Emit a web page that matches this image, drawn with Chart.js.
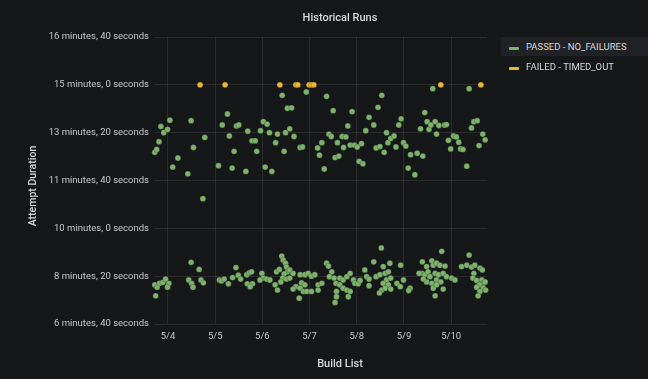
<!DOCTYPE html>
<html>
<head>
<meta charset="utf-8">
<script src="https://cdn.jsdelivr.net/npm/chart.js@4.4.1/dist/chart.umd.min.js"></script>
<style>
  body { margin: 0; background: #161719; }
  #wrap { position: relative; width: 648px; height: 379px; }
  .leg { position: absolute; left: 501px; width: 147px; height: 19px; font: 9.5px Roboto, sans-serif; color: #d8d9da; line-height: 19px; }
  .leg .mk { position: absolute; left: 8px; top: 10px; width: 10px; height: 3px; border-radius: 1px; }
  .leg span { position: absolute; left: 25px; top: 0; }
</style>
</head>
<body>
<div id="wrap">
  <canvas id="runs" width="648" height="379"></canvas>
  <div class="leg" style="top:37px;background:#212226;"><div class="mk" style="background:#7eb26d"></div><span>PASSED - NO_FAILURES</span></div>
  <div class="leg" style="top:57px;"><div class="mk" style="background:#eab839"></div><span>FAILED - TIMED_OUT</span></div>
</div>
<script>
// x = day of May (fractional), y = attempt duration in seconds
const passedX = [
  3.72, 3.76, 3.81, 3.85, 3.91, 3.99, 4.04, 4.10, 4.21, 4.42, 4.49, 4.54, 4.74, 4.78, 5.07, 5.15, 5.26, 5.30, 5.36, 5.40,
  5.45, 5.50, 5.65, 5.69, 5.78, 5.85, 5.88, 5.96, 6.02, 6.06, 6.10, 6.15, 6.20, 6.28, 6.32, 6.42, 6.46, 6.49, 6.53, 6.58,
  6.62, 6.67, 6.80, 6.85, 6.93, 7.17, 7.21, 7.26, 7.31, 7.36, 7.41, 7.46, 7.50, 7.54, 7.59, 7.62, 7.69, 7.72, 7.77, 7.81,
  7.86, 7.90, 7.95, 8.01, 8.05, 8.10, 8.13, 8.19, 8.26, 8.36, 8.41, 8.45, 8.49, 8.53, 8.58, 8.63, 8.66, 8.72, 8.79, 8.83,
  8.89, 8.94, 8.99, 9.04, 9.09, 9.14, 9.23, 9.28, 9.35, 9.40, 9.44, 9.49, 9.53, 9.57, 9.61, 9.66, 9.69, 9.74, 9.86, 9.90,
  9.94, 9.99, 10.05, 10.11, 10.16, 10.20, 10.25, 10.33, 10.38, 10.43, 10.48, 10.55, 10.59, 10.67, 10.72,
  3.74, 3.72, 3.77, 3.82, 3.89, 3.95, 4.02, 3.99, 4.49, 4.66, 4.44, 4.50, 4.53, 4.70, 4.75, 5.09, 5.13, 5.19, 5.28, 5.44,
  5.37, 5.49, 5.54, 5.67, 5.72, 5.77, 5.68, 5.79, 5.74, 5.99, 6.02, 5.95, 6.09, 6.16, 6.27, 6.32, 6.30, 6.36, 6.41, 6.44,
  6.49, 6.51, 6.53, 6.58, 6.65, 6.46, 6.43, 6.39, 6.51, 6.58, 6.71, 6.65, 6.80, 6.90, 6.97, 7.04, 7.11, 6.83, 6.90, 6.80,
  6.87, 6.78, 6.94, 7.04, 7.18, 7.18, 7.26, 7.36, 7.40, 7.47, 7.42, 7.52, 7.56, 7.64, 7.71, 7.79, 7.86, 7.93, 7.96, 7.64,
  7.71, 7.79, 7.57, 7.57, 7.54, 7.86, 7.82, 8.03, 8.07, 8.17, 8.21, 8.26, 8.36, 8.26, 8.41, 8.49, 8.56, 8.60, 8.67, 8.70,
  8.63, 8.72, 8.56, 8.67, 8.53, 8.48, 8.60, 8.72, 8.85, 8.93, 8.92, 8.99, 9.13, 9.10, 8.52, 9.39, 9.59, 9.48, 9.38, 9.44,
  9.51, 9.62, 9.69, 9.76, 9.87, 9.55, 9.66, 9.73, 9.83, 9.90, 10.01, 10.08, 9.48, 9.59, 9.69, 9.78, 9.62, 9.69, 9.83, 9.66,
  9.41, 9.32, 9.80, 10.38, 10.22, 10.33, 10.43, 10.50, 10.61, 10.66, 10.48, 10.46, 10.54, 10.65, 10.68, 10.72, 10.60, 10.54, 10.68, 10.61,
  10.57, 10.73
];
const passedY = [
  759, 765, 781, 813, 800, 807, 826, 728, 747, 714, 825, 769, 662, 790, 731, 816, 839, 793, 726, 761,
  814, 816, 719, 803, 783, 783, 761, 804, 823, 728, 818, 800, 719, 779, 797, 878, 761, 800, 851, 808,
  852, 792, 769, 770, 885, 768, 753, 779, 724, 876, 797, 792, 846, 748, 779, 751, 792, 769, 791, 814,
  774, 844, 774, 770, 740, 777, 735, 804, 832, 816, 768, 853, 771, 878, 759, 800, 779, 788, 793, 770,
  816, 829, 779, 772, 726, 754, 712, 757, 808, 751, 842, 823, 807, 816, 892, 823, 797, 815, 816, 817,
  784, 766, 793, 791, 780, 766, 765, 730, 892, 810, 823, 825, 773, 797, 785,
  459, 482, 477, 485, 487, 494, 485, 477, 529, 514, 492, 485, 477, 492, 486, 492, 490, 494, 484, 518,
  497, 502, 494, 503, 507, 509, 484, 484, 478, 506, 496, 492, 494, 492, 482, 471, 509, 514, 542, 534,
  527, 519, 509, 513, 506, 505, 496, 488, 494, 496, 478, 473, 503, 503, 506, 500, 503, 486, 482, 475,
  468, 454, 468, 468, 482, 471, 485, 527, 521, 509, 499, 496, 485, 496, 492, 499, 506, 492, 485, 482,
  475, 471, 468, 457, 445, 468, 457, 484, 491, 513, 499, 494, 530, 480, 499, 503, 520, 506, 509, 527,
  492, 496, 485, 482, 471, 465, 475, 473, 485, 523, 478, 492, 475, 470, 559, 530, 532, 520, 506, 503,
  509, 523, 527, 523, 521, 499, 506, 503, 506, 499, 496, 492, 488, 485, 492, 488, 475, 482, 473, 459,
  494, 506, 552, 544, 520, 523, 519, 523, 517, 513, 506, 496, 491, 492, 485, 488, 482, 477, 475, 468,
  459, 471
];
const failedX = [4.68, 5.21, 6.37, 6.71, 6.75, 6.99, 7.04, 7.09, 9.78, 10.63];
const failedY = [900, 900, 900, 900, 900, 900, 900, 900, 900, 900];

const dayTicks = [4, 5, 6, 7, 8, 9, 10];
const yMin = 400, yMax = 1000, yStep = 100;

function toPoints(xs, ys) {
  return xs.map((x, i) => ({ x: x, y: ys[i] }));
}

function durationLabel(v) {
  const m = Math.floor(v / 60);
  const s = Math.round(v - m * 60);
  return m + ' minutes, ' + s + ' seconds';
}

const tickColor = '#c7c8cd';
const gridColor = 'rgba(255,255,255,0.09)';

// title and axis titles, placed like the original panel
const labelsPlugin = {
  id: 'labels',
  afterDraw(chart) {
    const ctx = chart.ctx;
    ctx.save();
    ctx.fillStyle = '#d8d9da';
    ctx.textAlign = 'center';
    ctx.textBaseline = 'middle';
    ctx.font = '500 11px Roboto, sans-serif';
    ctx.fillText('Historical Runs', 340, 18);
    ctx.fillText('Build List', 340, 364);
    ctx.font = '500 10.5px Roboto, sans-serif';
    ctx.translate(33, 186);
    ctx.rotate(-Math.PI / 2);
    ctx.fillText('Attempt Duration', 0, 0);
    ctx.restore();
  }
};

new Chart(document.getElementById('runs'), {
  type: 'scatter',
  data: {
    datasets: [
      {
        label: 'PASSED - NO_FAILURES',
        data: toPoints(passedX, passedY),
        backgroundColor: '#7eb26d',
        borderColor: 'rgba(0,0,0,0.35)',
        borderWidth: 0.6,
        pointRadius: 2.9,
        clip: false
      },
      {
        label: 'FAILED - TIMED_OUT',
        data: toPoints(failedX, failedY),
        backgroundColor: '#eab839',
        borderColor: 'rgba(0,0,0,0.35)',
        borderWidth: 0.6,
        pointRadius: 2.9,
        clip: false
      }
    ]
  },
  options: {
    responsive: false,
    animation: false,
    devicePixelRatio: 1,
    layout: { padding: { top: 37, right: 161, left: 0, bottom: 0 } },
    plugins: {
      legend: { display: false },
      tooltip: { enabled: false }
    },
    scales: {
      x: {
        type: 'linear',
        min: 3.725,
        max: 10.759,
        afterBuildTicks: (scale) => { scale.ticks = dayTicks.map(v => ({ value: v })); },
        afterFit: (scale) => { scale.height = 55; },
        grid: { color: gridColor, drawTicks: false },
        border: { display: false },
        ticks: {
          color: tickColor,
          font: { family: 'Roboto', size: 9.5 },
          padding: 7,
          maxRotation: 0,
          callback: (v) => '5/' + v
        }
      },
      y: {
        min: yMin,
        max: yMax,
        afterFit: (scale) => { scale.width = 155; },
        grid: { color: gridColor, drawTicks: false },
        border: { display: false },
        ticks: {
          stepSize: yStep,
          color: tickColor,
          font: { family: 'Roboto', size: 9.5 },
          padding: 6,
          callback: (v) => durationLabel(v)
        }
      }
    }
  },
  plugins: [labelsPlugin]
});
</script>
</body>
</html>
